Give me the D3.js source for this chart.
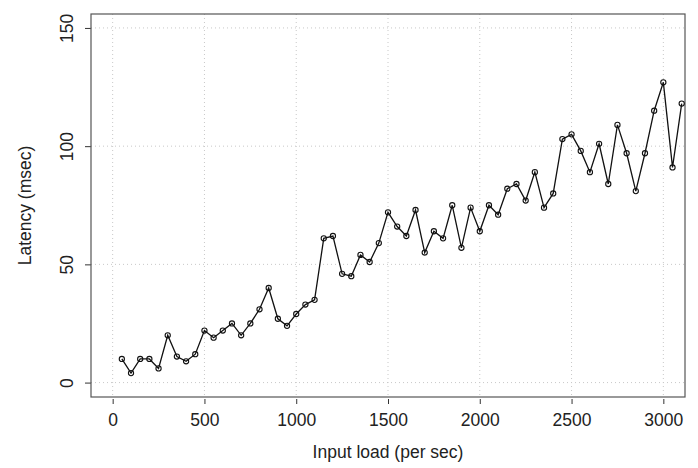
<!DOCTYPE html>
<html>
<head>
<meta charset="utf-8">
<script src="https://cdn.jsdelivr.net/npm/d3@7"></script>
<style>
  body{margin:0;background:#fff;}
  text{font-family:"Liberation Sans",Arial,sans-serif;fill:#222;}
</style>
</head>
<body>
<div id="chart"></div>
<script>
// input load (per sec)
var loads=d3.range(50,3101,50);
// latency (msec)
var latency=[10,4,10,10,6,20,11,9,12,22,19,22,25,20,25,31,40,27,24,29,
             33,35,61,62,46,45,54,51,59,72,66,62,73,55,64,61,75,57,74,64,
             75,71,82,84,77,89,74,80,103,105,98,89,101,84,109,97,81,97,115,127,
             91,118];
var xTicks=[0,500,1000,1500,2000,2500,3000];
var yTicks=[0,50,100,150];

var width=698,height=468;
var box={left:91,right:685,top:14,bottom:397};

var svg=d3.select("#chart").append("svg")
    .attr("width",width)
    .attr("height",height);

var x=d3.scaleLinear().domain([-118,3118]).range([box.left,box.right]);
var y=d3.scaleLinear().domain([-6.1,155.9]).range([box.bottom,box.top]);

// grid
svg.append("g").selectAll("line").data(xTicks).enter().append("line")
    .attr("x1",function(d){return x(d)}).attr("x2",function(d){return x(d)})
    .attr("y1",box.top).attr("y2",box.bottom)
    .attr("stroke","#c8c8c8").attr("stroke-dasharray","1,3");
svg.append("g").selectAll("line").data(yTicks).enter().append("line")
    .attr("y1",function(d){return y(d)}).attr("y2",function(d){return y(d)})
    .attr("x1",box.left).attr("x2",box.right)
    .attr("stroke","#c8c8c8").attr("stroke-dasharray","1,3");

// axes
var xAxis=svg.append("g")
    .attr("transform","translate(0,"+(box.bottom+2)+")")
    .call(d3.axisBottom(x).tickValues(xTicks).tickFormat(d3.format("d")).tickSize(5).tickPadding(10));
xAxis.select(".domain").remove();
xAxis.selectAll("line").attr("stroke","#333");
xAxis.selectAll("text").style("font-size","17.5px").attr("fill","#222");

var yAxis=svg.append("g")
    .attr("transform","translate("+box.left+",0)")
    .call(d3.axisLeft(y).tickValues(yTicks).tickFormat(d3.format("d")).tickSize(6).tickPadding(0));
yAxis.select(".domain").remove();
yAxis.selectAll("line").attr("stroke","#333");
yAxis.selectAll("text")
    .style("font-size","17.5px").attr("fill","#222")
    .attr("text-anchor","middle")
    .attr("x",0).attr("dy",0)
    .attr("transform","translate(-18,0) rotate(-90)");

// frame
svg.append("rect")
    .attr("x",box.left).attr("y",box.top)
    .attr("width",box.right-box.left).attr("height",box.bottom-box.top)
    .attr("fill","none").attr("stroke","#555").attr("stroke-width",1.2);

// series
var pts=loads.map(function(d,i){return [d,latency[i]]});
var line=d3.line().x(function(d){return x(d[0])}).y(function(d){return y(d[1])});
svg.append("path").datum(pts)
    .attr("d",line).attr("fill","none").attr("stroke","#111").attr("stroke-width",1.3);
svg.append("g").selectAll("circle").data(pts).enter().append("circle")
    .attr("cx",function(d){return x(d[0])})
    .attr("cy",function(d){return y(d[1])})
    .attr("r",2.6)
    .attr("fill","none").attr("stroke","#111").attr("stroke-width",1.1);

// titles
svg.append("text")
    .attr("x",(box.left+box.right)/2).attr("y",458)
    .attr("text-anchor","middle").style("font-size","17.5px")
    .text("Input load (per sec)");
svg.append("text")
    .attr("transform","translate(31,"+((box.top+box.bottom)/2)+") rotate(-90)")
    .attr("text-anchor","middle").style("font-size","17.5px")
    .text("Latency (msec)");
</script>
</body>
</html>
